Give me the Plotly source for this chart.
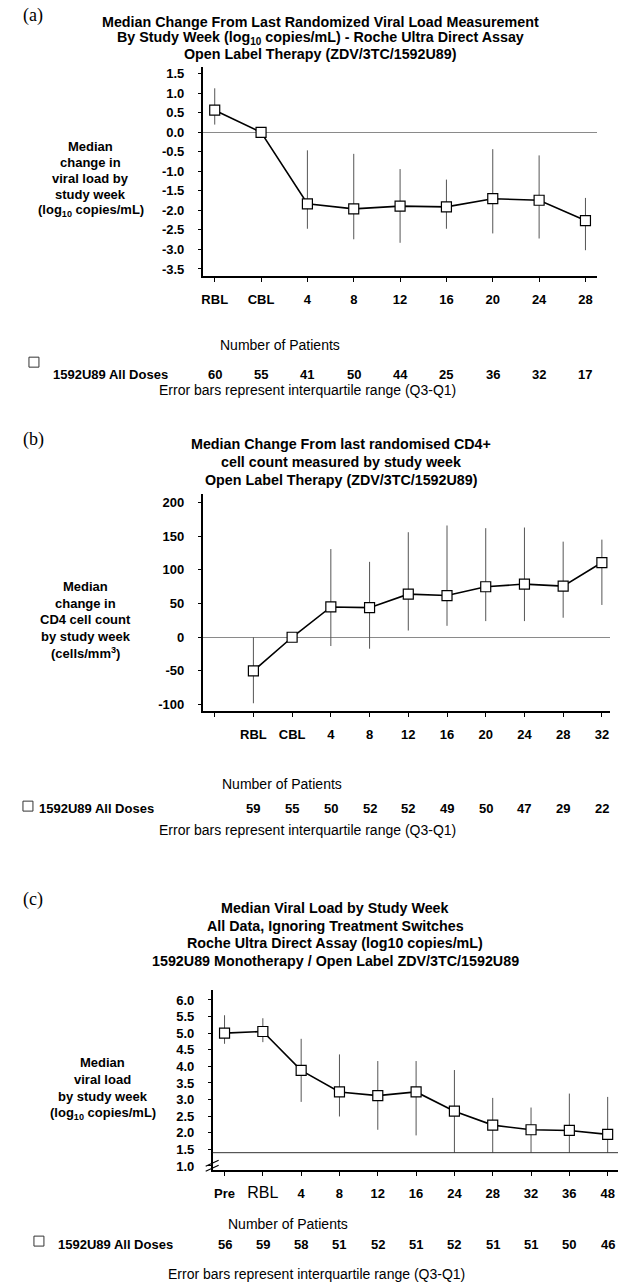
import plotly.graph_objects as go

W, H = 619, 1287

# ---------------- data ----------------
weeks_a = ["RBL", "CBL", "4", "8", "12", "16", "20", "24", "28"]
med_a = [0.57, 0.0, -1.83, -1.96, -1.89, -1.91, -1.70, -1.74, -2.26]
q3_a = [1.13, 0.0, -0.46, -0.55, -0.94, -1.21, -0.43, -0.59, -1.68]
q1_a = [0.20, 0.0, -2.47, -2.74, -2.83, -2.47, -2.59, -2.72, -3.02]
n_a = [60, 55, 41, 50, 44, 25, 36, 32, 17]
yt_a = [1.5, 1.0, 0.5, 0.0, -0.5, -1.0, -1.5, -2.0, -2.5, -3.0, -3.5]
ytl_a = ["1.5", "1.0", "0.5", "0.0", "-0.5", "-1.0", "-1.5", "-2.0", "-2.5", "-3.0", "-3.5"]

weeks_b = [" ", "RBL", "CBL", "4", "8", "12", "16", "20", "24", "28", "32"]
med_b = [-50, 0, 45, 44, 64, 62, 75, 79, 76, 111]
q3_b = [0, 0, 131, 112, 156, 166, 162, 163, 142, 145]
q1_b = [-98, 0, -13, -17, 10, 17, 24, 24, 29, 48]
n_b = [59, 55, 50, 52, 52, 49, 50, 47, 29, 22]
yt_b = [200, 150, 100, 50, 0, -50, -100]
ytl_b = ["200", "150", "100", "50", "0", "-50", "-100"]

weeks_c = ["Pre", "RBL", "4", "8", "12", "16", "24", "28", "32", "36", "48"]
med_c = [5.0, 5.05, 3.88, 3.23, 3.12, 3.23, 2.65, 2.23, 2.09, 2.07, 1.95]
q3_c = [5.54, 5.45, 4.83, 4.36, 4.16, 4.16, 3.89, 3.05, 2.76, 3.18, 3.08]
q1_c = [4.68, 4.73, 2.93, 2.49, 2.09, 1.92, 1.40, 1.40, 1.40, 1.40, 1.40]
n_c = [56, 59, 58, 51, 52, 51, 52, 51, 51, 50, 46]
lod_c = 1.4
yt_c = [6.0, 5.5, 5.0, 4.5, 4.0, 3.5, 3.0, 2.5, 2.0, 1.5, 1.0]
ytl_c = ["6.0", "5.5", "5.0", "4.5", "4.0", "3.5", "3.0", "2.5", "2.0", "1.5", "1.0"]

FONT = "Liberation Sans"
SERIF = "Liberation Serif"


def px(x):
    return x / W


def py(y):
    return 1 - y / H


fig = go.Figure()


def add_series(xs, med, q1, q3, xa, ya):
    fig.add_trace(go.Scatter(
        x=xs, y=med, xaxis=xa, yaxis=ya, mode="lines+markers",
        line=dict(color="black", width=1.6),
        marker=dict(symbol="square", size=10, color="white",
                    line=dict(color="black", width=1.2)),
        error_y=dict(type="data", symmetric=False,
                     array=[h - m for h, m in zip(q3, med)],
                     arrayminus=[m - l for m, l in zip(med, q1)],
                     color="#555555", thickness=1, width=0),
        showlegend=False, hoverinfo="skip", cliponaxis=False))


xa_idx = list(range(len(weeks_a)))
add_series(xa_idx, med_a, q1_a, q3_a, "x", "y")
xb_idx = list(range(1, len(weeks_b)))
add_series(xb_idx, med_b, q1_b, q3_b, "x2", "y2")
xc_idx = list(range(len(weeks_c)))
add_series(xc_idx, med_c, q1_c, q3_c, "x3", "y3")

tickfont = dict(family=FONT, size=13, color="black", weight="bold")


def xaxis(domain, rng, labels, anchor):
    return dict(domain=domain, range=rng, anchor=anchor,
                tickmode="array", tickvals=list(range(len(labels))),
                ticktext=labels, showgrid=False, zeroline=False,
                showline=True, linecolor="black", linewidth=2,
                ticks="outside", ticklen=4, tickcolor="black", tickwidth=1,
                tickfont=tickfont, ticklabelstandoff=6)


def yaxis(domain, rng, vals, labels, anchor, zero=True):
    return dict(domain=domain, range=rng, anchor=anchor,
                tickmode="array", tickvals=vals, ticktext=labels,
                showgrid=False, zeroline=zero, zerolinecolor="#8a8a8a",
                zerolinewidth=1, showline=True, linecolor="black",
                linewidth=1.5, ticks="outside", ticklen=3,
                tickcolor="black", tickwidth=1, tickfont=tickfont,
                ticklabelstandoff=11)


ticktext_c = ["<b>%s</b>" % t if t != "RBL" else
              "<span style='font-size:16px'>RBL</span>" for t in weeks_c]

fig.update_layout(
    width=W, height=H, margin=dict(l=0, r=0, t=0, b=0),
    paper_bgcolor="white", plot_bgcolor="white",
    font=dict(family=FONT, color="black"),
    xaxis=xaxis([px(202), px(597)], [-0.26, 8.25], weeks_a, "y"),
    yaxis=yaxis([py(277), py(67)], [-3.69, 1.68], yt_a, ytl_a, "x"),
    xaxis2=xaxis([px(202), px(610)], [-0.31, 10.21], weeks_b, "y2"),
    yaxis2=yaxis([py(713), py(495)], [-110, 213], yt_b, ytl_b, "x2"),
    xaxis3=xaxis([px(212), px(618)], [-0.31, 10.27], ticktext_c, "y3"),
    yaxis3=yaxis([py(1173), py(992)], [0.87, 6.31], yt_c, ytl_c, "x3", zero=False),
)
fig.layout.xaxis3.tickfont = dict(family=FONT, size=13, color="black")

# detection limit line in (c)
fig.add_shape(type="line", xref="x3 domain", yref="y3", x0=0, x1=1,
              y0=lod_c, y1=lod_c, line=dict(color="#333333", width=1))
# axis break marks in (c)
for dy in (0, 5):
    fig.add_shape(type="line", xref="paper", yref="paper",
                  x0=px(205), x1=px(218), y0=py(1171 - dy + 3), y1=py(1171 - dy - 3),
                  line=dict(color="black", width=1.2))

ann = []


def text(x, y, s, size=13, bold=True, family=FONT, xanchor="center",
         xref="paper"):
    ann.append(dict(x=x, y=py(y), xref=xref, yref="paper", text=s,
                    showarrow=False, xanchor=xanchor, yanchor="middle",
                    font=dict(family=family, size=size, color="black",
                              weight="bold" if bold else "normal")))


def lines(x, y0, step, rows, size=13, bold=True):
    for k, s in enumerate(rows):
        text(x, y0 + k * step, s, size=size, bold=bold)


# panel labels
text(px(20), 16, "(a)", size=18, bold=False, family=SERIF, xanchor="left")
text(px(20), 441, "(b)", size=18, bold=False, family=SERIF, xanchor="left")
text(px(20), 902, "(c)", size=18, bold=False, family=SERIF, xanchor="left")

# titles
lines(px(320), 22, 16, [
    "Median Change From Last Randomized Viral Load Measurement",
    "By Study Week (log<sub>10</sub> copies/mL) - Roche Ultra Direct Assay",
    "Open Label Therapy (ZDV/3TC/1592U89)"], size=14.3)
lines(px(341), 445, 18, [
    "Median Change From last randomised CD4+",
    "cell count measured by study week",
    "Open Label Therapy (ZDV/3TC/1592U89)"], size=14.3)
lines(px(335), 910, 17.7, [
    "Median Viral Load by Study Week",
    "All Data, Ignoring Treatment Switches",
    "Roche Ultra Direct Assay (log10 copies/mL)",
    "1592U89 Monotherapy / Open Label ZDV/3TC/1592U89"], size=14.3)

# y-axis titles
lines(px(90), 147, 16, ["Median", "change in", "viral load by", "study week",
                        "(log<sub>10</sub> copies/mL)"])
lines(px(85), 588, 16.7, ["Median", "change in", "CD4 cell count", "by study week",
                          "(cells/mm<sup>3</sup>)"])
lines(px(102), 1065, 17, ["Median", "viral load", "by study week",
                          "(log<sub>10</sub> copies/mL)"])

# patient count tables
text(px(279), 346, "Number of Patients", size=14, bold=False)
text(px(50), 375, "1592U89 All Doses", xanchor="left")
for i, n in zip(xa_idx, n_a):
    text(i, 375, str(n), xref="x")
text(px(307), 391, "Error bars represent interquartile range (Q3-Q1)", size=14, bold=False)

text(px(281), 786, "Number of Patients", size=14, bold=False)
text(px(36), 810, "1592U89 All Doses", xanchor="left")
for i, n in zip(xb_idx, n_b):
    text(i, 810, str(n), xref="x2")
text(px(307), 832, "Error bars represent interquartile range (Q3-Q1)", size=14, bold=False)

text(px(287), 1227, "Number of Patients", size=14, bold=False)
text(px(55), 1247, "1592U89 All Doses", xanchor="left")
for i, n in zip(xc_idx, n_c):
    text(i, 1247, str(n), xref="x3")
text(px(316), 1277, "Error bars represent interquartile range (Q3-Q1)", size=14, bold=False)

fig.update_layout(annotations=ann)

# legend squares in tables
for (cx, cy) in ((33, 363), (27, 808), (38, 1244)):
    fig.add_shape(type="rect", xref="paper", yref="paper",
                  x0=px(cx - 5), x1=px(cx + 5), y0=py(cy + 5), y1=py(cy - 5),
                  line=dict(color="#333333", width=1), fillcolor="white")

fig.write_html("out.html", config={"displayModeBar": False},
               post_script="document.body.style.margin='0';"
                           "document.body.style.overflow='hidden';")
